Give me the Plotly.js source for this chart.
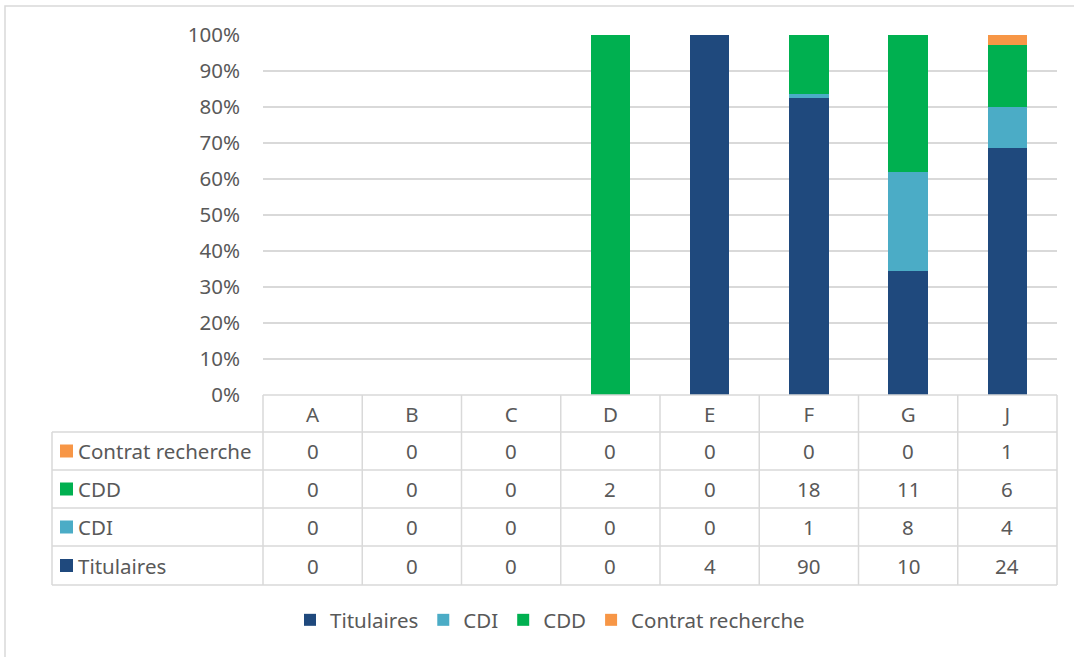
<!DOCTYPE html>
<html>
<head>
<meta charset="utf-8">
<script src="https://cdn.plot.ly/plotly-3.0.1.min.js"></script>
<style>html,body{margin:0;padding:0;background:#fff;}#chart{width:1074px;height:657px;}</style>
</head>
<body>
<div id="chart"></div>
<script>
const categories = ['A','B','C','D','E','F','G','J'];
const seriesNames = ['Titulaires','CDI','CDD','Contrat recherche'];
const titulaires = [0,0,0,0,4,90,10,24];
const cdi = [0,0,0,0,0,1,8,4];
const cdd = [0,0,0,2,0,18,11,6];
const contrat = [0,0,0,0,0,0,0,1];
const colors = ['#1F497D','#4BACC6','#00B050','#F79646'];
const yTickVals = [0,10,20,30,40,50,60,70,80,90,100];

const series = [titulaires, cdi, cdd, contrat];
const FONT = '"Noto Sans", "Open Sans", sans-serif';
const FS = 20.5;
const TXT = '#595959';
const GRID = '#D9D9D9';

// pixel -> paper helpers (plot area: x 263..1057, y 35..395)
const L = 263, R = 1057, T = 35, B = 395;
const xp = p => (p - L) / (R - L);
const yp = p => (B - p) / (B - T);

const traces = series.map((vals, i) => ({
  type: 'bar', name: seriesNames[i], x: categories, y: vals,
  marker: {color: colors[i]}, hoverinfo: 'skip'
}));

const shapes = [];
const annotations = [];
const line = {color: GRID, width: 1.5};
// outer frame (top and left only visible)
shapes.push({type:'rect', xref:'paper', yref:'paper', x0:xp(5), x1:xp(1100), y0:yp(6), y1:yp(700), line:{color:GRID, width:1.5}, fillcolor:'rgba(0,0,0,0)', layer:'below'});

const rowsY = [395, 432, 470, 508, 546, 585];
// horizontal lines
shapes.push({type:'line', xref:'paper', yref:'paper', x0:0, x1:1, y0:yp(395), y1:yp(395), line});
for (let k = 1; k < rowsY.length; k++) {
  shapes.push({type:'line', xref:'paper', yref:'paper', x0:xp(52), x1:1, y0:yp(rowsY[k]), y1:yp(rowsY[k]), line});
}
// vertical lines
shapes.push({type:'line', xref:'paper', yref:'paper', x0:xp(52), x1:xp(52), y0:yp(432), y1:yp(585), line});
for (let c = 0; c <= categories.length; c++) {
  const x = c / categories.length;
  shapes.push({type:'line', xref:'paper', yref:'paper', x0:x, x1:x, y0:yp(395), y1:yp(585), line});
}
// table rows: top to bottom = reverse series order
const tableOrder = [3,2,1,0];
tableOrder.forEach((si, r) => {
  const top = rowsY[r+1], bot = rowsY[r+2];
  const mid = (top + bot) / 2;
  shapes.push({type:'rect', xref:'paper', yref:'paper', x0:xp(60), x1:xp(73), y0:yp(mid-6.5), y1:yp(mid+6.5), fillcolor:colors[si], line:{width:0}});
  annotations.push({xref:'paper', yref:'paper', x:xp(76), y:yp(mid), xanchor:'left', yanchor:'middle', text:seriesNames[si], showarrow:false, font:{family:FONT, size:FS, color:TXT}});
  series[si].forEach((v, ci) => {
    annotations.push({xref:'x', yref:'paper', x:categories[ci], y:yp(mid), xanchor:'center', yanchor:'middle', text:String(v), showarrow:false, font:{family:FONT, size:FS, color:TXT}});
  });
});

const layout = {
  width: 1074, height: 657,
  margin: {l: L, r: 1074 - R, t: T, b: 657 - B},
  paper_bgcolor: '#fff', plot_bgcolor: '#fff',
  barmode: 'stack', barnorm: 'percent', bargap: 0.6,
  font: {family: FONT, size: FS, color: TXT},
  xaxis: {type:'category', showgrid:false, zeroline:false, showline:false, ticks:'', tickfont:{family:FONT, size:FS, color:TXT}, ticklabelstandoff: 5, fixedrange:true},
  yaxis: {range:[0,100], tickvals:yTickVals, ticktext:yTickVals.map(v => v + '%'), showgrid:true, gridcolor:GRID, gridwidth:1.5, zeroline:false, showline:false, ticks:'', tickfont:{family:FONT, size:FS, color:TXT}, ticklabelstandoff: 22, fixedrange:true},
  showlegend: true,
  legend: {orientation:'h', x: xp(550), xanchor:'center', y: yp(620), yanchor:'middle', font:{family:FONT, size:FS, color:TXT}, traceorder:'normal', itemwidth:30, itemclick:false, itemdoubleclick:false},
  shapes, annotations
};

Plotly.newPlot('chart', traces, layout, {displayModeBar:false, staticPlot:true});
</script>
</body>
</html>
